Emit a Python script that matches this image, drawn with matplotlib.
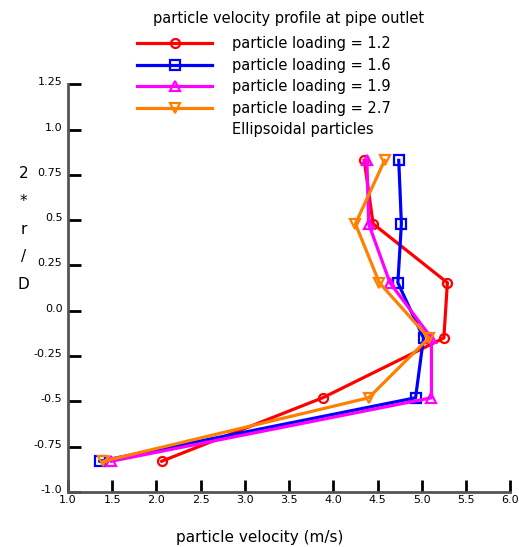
import numpy as np
import matplotlib.pyplot as plt
import matplotlib.transforms as mtransforms
from matplotlib.lines import Line2D

# radial position 2*r/D
r_pos = [0.83, 0.48, 0.155, -0.15, -0.48, -0.83]

vel_12 = [4.35, 4.45, 5.29, 5.25, 3.88, 2.06]
vel_16 = [4.74, 4.77, 4.73, 5.02, 4.93, 1.36]
vel_19 = [4.38, 4.40, 4.64, 5.11, 5.11, 1.49]
vel_27 = [4.58, 4.25, 4.52, 5.08, 4.40, 1.40]

labels = ['particle loading = 1.2', 'particle loading = 1.6',
          'particle loading = 1.9', 'particle loading = 2.7']
colors = ['#ff0000', '#0000ff', '#ff00ff', '#ff8000']
markers = ['o', 's', '^', 'v']

xticks = [1.0, 1.5, 2.0, 2.5, 3.0, 3.5, 4.0, 4.5, 5.0, 5.5, 6.0]
yticks = [-1.0, -0.75, -0.5, -0.25, 0.0, 0.25, 0.5, 0.75, 1.0, 1.25]
ytick_labels = ['-1.0', '-0.75', '-0.5', '-0.25', '0.0', '0.25', '0.5', '0.75', '1.0', '1.25']

fig = plt.figure(figsize=(5.19, 5.47), dpi=100)
ax = fig.add_axes([0.131, 0.1005, 0.852, 0.7455])

handles = []
for v, lab, c, m in zip([vel_12, vel_16, vel_19, vel_27], labels, colors, markers):
    h, = ax.plot(v, r_pos, color=c, lw=2.3, marker=m, ms=6.5, mfc='none',
                 mec=c, mew=1.6, label=lab)
    handles.append(h)

ax.set_xlim(1.0, 6.0)
ax.set_ylim(-1.0, 1.25)
ax.set_xticks(xticks)
ax.set_xticklabels(['%.1f' % t for t in xticks])
ax.set_yticks(yticks)
ax.set_yticklabels(ytick_labels)
ax.tick_params(direction='in', length=9, width=2, color='black',
               labelsize=8, pad=2)
ax.tick_params(axis='y', pad=4)
# y labels sit a little above their ticks in the original
shift = mtransforms.ScaledTranslation(0, 3 / 100, fig.dpi_scale_trans)
for lbl in ax.get_yticklabels():
    lbl.set_transform(lbl.get_transform() + shift)
for s in ['top', 'right']:
    ax.spines[s].set_visible(False)
for s in ['left', 'bottom']:
    ax.spines[s].set_linewidth(2)
    ax.spines[s].set_color('#555555')

fig.text(0.5, 0.018, 'particle velocity (m/s)', ha='center', va='center', fontsize=11)
fig.text(0.046, 0.581, '2\n*\nr\n/\nD', ha='center', va='center', fontsize=11,
         linespacing=2.05)
fig.text(0.556, 0.967, 'particle velocity profile at pipe outlet', ha='center',
         va='center', fontsize=10.5)

handles.append(Line2D([], [], color='none'))
leg = fig.legend(handles=handles, labels=labels + ['Ellipsoidal particles'],
                 loc='upper left', bbox_to_anchor=(0.264, 0.934), frameon=False,
                 fontsize=10.5, handlelength=5.15, handletextpad=1.37,
                 labelspacing=0.45, borderaxespad=0, borderpad=0)

fig.savefig('out.png', dpi=100)
